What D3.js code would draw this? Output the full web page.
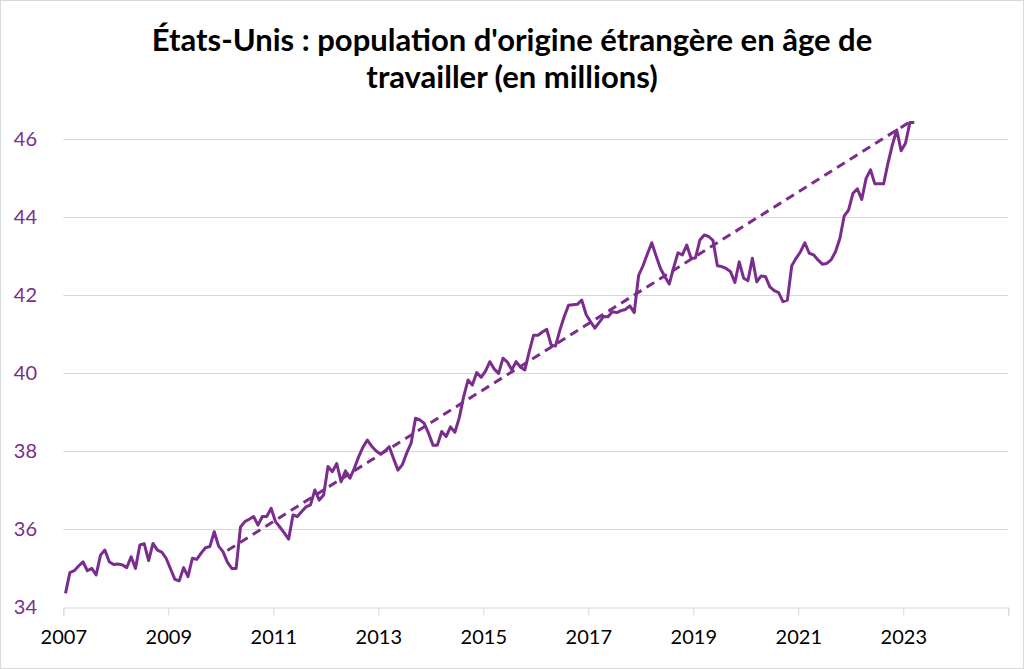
<!DOCTYPE html>
<html>
<head>
<meta charset="utf-8">
<script src="https://cdn.jsdelivr.net/npm/d3@7"></script>
<style>
  body { margin: 0; background: #fff; }
  svg { display: block; font-family: Lato, "Liberation Sans", sans-serif; }
</style>
</head>
<body>
<script>
// Monthly values, starting January 2007 (millions)
var population = [
  34.35, 34.88, 34.93, 35.05, 35.16, 34.93, 34.99, 34.82, 35.33, 35.46, 35.16, 35.09,
  35.10, 35.08, 35.01, 35.29, 34.99, 35.59, 35.62, 35.19, 35.63, 35.46, 35.41, 35.25,
  34.98, 34.71, 34.67, 35.01, 34.78, 35.25, 35.22, 35.38, 35.52, 35.55, 35.93, 35.56,
  35.42, 35.15, 34.99, 34.99, 36.05, 36.19, 36.25, 36.32, 36.10, 36.32, 36.32, 36.53,
  36.19, 36.05, 35.90, 35.74, 36.36, 36.32, 36.45, 36.57, 36.62, 37.00, 36.74, 36.87,
  37.60, 37.47, 37.68, 37.21, 37.49, 37.30, 37.55, 37.85, 38.10, 38.28, 38.12, 38.00,
  37.92, 38.00, 38.11, 37.80, 37.51, 37.65, 37.95, 38.20, 38.84, 38.80, 38.71, 38.45,
  38.15, 38.15, 38.50, 38.37, 38.62, 38.48, 38.85, 39.39, 39.82, 39.69, 40.01, 39.89,
  40.05, 40.29, 40.10, 39.99, 40.38, 40.28, 40.08, 40.29, 40.15, 40.08, 40.55, 40.97,
  40.97, 41.05, 41.12, 40.72, 40.69, 41.10, 41.45, 41.74, 41.75, 41.76, 41.87, 41.50,
  41.32, 41.15, 41.30, 41.45, 41.44, 41.57, 41.55, 41.60, 41.63, 41.72, 41.55, 42.50,
  42.75, 43.05, 43.34, 43.00, 42.68, 42.47, 42.28, 42.70, 43.08, 43.03, 43.28, 42.94,
  42.95, 43.41, 43.54, 43.50, 43.40, 42.75, 42.73, 42.68, 42.60, 42.32, 42.85, 42.43,
  42.37, 42.94, 42.34, 42.49, 42.47, 42.21, 42.11, 42.06, 41.83, 41.87, 42.75, 42.94,
  43.11, 43.34, 43.07, 43.03, 42.90, 42.79, 42.81, 42.90, 43.11, 43.45, 44.03, 44.18,
  44.61, 44.72, 44.45, 44.99, 45.21, 44.85, 44.85, 44.85, 45.38, 45.85, 46.23, 45.70,
  45.89, 46.42, 46.42
];

// Trend line: [month index, value]
var trendMonths = [37, 193];
var trendValues = [35.45, 46.44];

var startYear = 2007;
var tickYears = [2007, 2009, 2011, 2013, 2015, 2017, 2019, 2021, 2023, 2025];
var yTicks = [34, 36, 38, 40, 42, 44, 46];

var titleLines = ["États-Unis : population d'origine étrangère en âge de",
                  "travailler (en millions)"];

var purple = "#7B2D8E";

var width = 1024, height = 669;
var margin = {top: 139, right: 15.7, bottom: 62, left: 63.3};

var svg = d3.select("body").append("svg")
  .attr("width", width)
  .attr("height", height);

svg.append("rect")
  .attr("x", 0.5).attr("y", 0.5)
  .attr("width", width - 1).attr("height", height - 1)
  .attr("fill", "#fff")
  .attr("stroke", "#d9d9d9");

var x = d3.scaleLinear()
  .domain([0, 216])
  .range([margin.left, width - margin.right]);

var y = d3.scaleLinear()
  .domain([34, 46])
  .range([height - margin.bottom, margin.top]);

// title
svg.append("text")
  .attr("x", 512)
  .attr("y", 51)
  .attr("text-anchor", "middle")
  .style("font-size", "31px")
  .style("font-weight", "bold")
  .selectAll("tspan")
  .data(titleLines)
  .enter().append("tspan")
    .attr("x", 512)
    .attr("dy", function(d, i) { return i ? 37 : 0; })
    .text(function(d) { return d; });

// horizontal gridlines
svg.append("g")
  .selectAll("line")
  .data(yTicks.slice(1))
  .enter().append("line")
    .attr("x1", x(0))
    .attr("x2", x(216))
    .attr("y1", function(d) { return Math.round(y(d)) + 0.5; })
    .attr("y2", function(d) { return Math.round(y(d)) + 0.5; })
    .attr("stroke", "#d9d9d9")
    .attr("stroke-width", 1);

// y labels
svg.append("g")
  .selectAll("text")
  .data(yTicks)
  .enter().append("text")
    .attr("x", 37)
    .attr("y", function(d) { return y(d); })
    .attr("dy", "0.36em")
    .attr("text-anchor", "end")
    .attr("fill", purple)
    .style("font-size", "20px")
    .text(function(d) { return d; });

// x axis
var xAxis = d3.axisBottom(x)
  .tickValues(tickYears.map(function(yr) { return (yr - startYear) * 12; }))
  .tickSize(8)
  .tickFormat(function(d) {
    var yr = startYear + d / 12;
    return yr === 2025 ? "" : yr;
  });

var gx = svg.append("g")
  .attr("transform", "translate(0," + (Math.round(y(34)) + 0.5) + ")")
  .call(xAxis);
gx.select(".domain").attr("stroke", "#d9d9d9");
gx.selectAll(".tick line").attr("stroke", "#d9d9d9");
gx.selectAll(".tick text")
  .attr("y", 22)
  .attr("dy", "0.71em")
  .attr("fill", "#000")
  .style("font-size", "20px")
  .style("font-family", "Lato, sans-serif");

// data line
var line = d3.line()
  .x(function(d, i) { return x(i + 0.5); })
  .y(function(d) { return y(d); });

svg.append("path")
  .datum(population)
  .attr("fill", "none")
  .attr("stroke", purple)
  .attr("stroke-width", 3)
  .attr("stroke-linejoin", "round")
  .attr("d", line);

// trend line
svg.append("path")
  .datum(d3.zip(trendMonths, trendValues))
  .attr("fill", "none")
  .attr("stroke", purple)
  .attr("stroke-width", 3)
  .attr("stroke-dasharray", "9,6")
  .attr("d", d3.line()
    .x(function(d) { return x(d[0] + 0.5); })
    .y(function(d) { return y(d[1]); }));
</script>
</body>
</html>
